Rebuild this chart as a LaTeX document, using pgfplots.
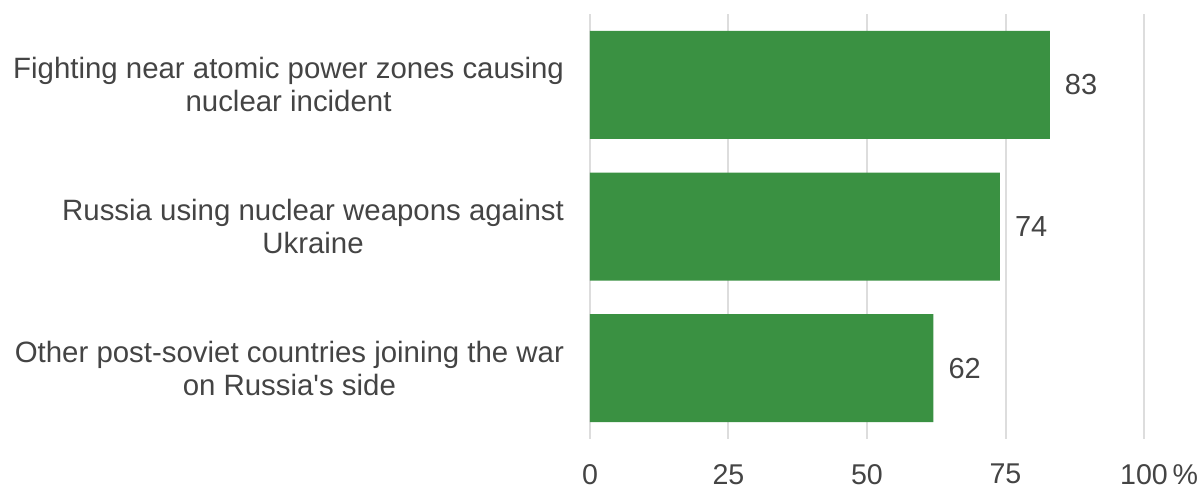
\documentclass[border=0pt]{standalone}
\usepackage{pgfplots}
\pgfplotsset{compat=1.18}
\usepackage{fontspec}
\setmainfont{Liberation Sans}
\definecolor{bargreen}{HTML}{3A9142}
\definecolor{txt}{HTML}{444444}
\definecolor{gridc}{HTML}{DDDDDD}
\begin{document}
\begin{tikzpicture}
\useasboundingbox (-295pt,-25pt) rectangle (306pt,219.5pt);
\begin{axis}[
  at={(0,0)}, anchor=south west,
  scale only axis, width=277pt, height=212.5pt,
  xbar, bar width=54pt,
  xmin=0, xmax=100, ymin=-0.5, ymax=2.5,
  y dir=reverse,
  xtick={0,25,50,75,100},
  xticklabels={0,25,50,75,100\rlap{\,\%}},
  ytick={0,1,2},
  yticklabels={{Fighting near atomic power zones causing\\nuclear incident},
               {Russia using nuclear weapons against\\Ukraine},
               {Other post-soviet countries joining the war\\on Russia\textquotesingle s side}},
  yticklabel style={align=center, font=\fontsize{14.7pt}{16.5pt}\selectfont, text=txt, xshift=-9.5pt},
  xticklabel style={font=\fontsize{14.3pt}{16pt}\selectfont, text=txt, yshift=-9pt},
  /pgf/number format/assume math mode=true,
  axis line style={draw=none},
  major tick length=0pt,
  xmajorgrids, major grid style={gridc, line width=1pt},
  nodes near coords,
  nodes near coords style={font=\fontsize{14.5pt}{16pt}\selectfont, text=txt, xshift=4pt},
]
\addplot[fill=bargreen, draw=none] coordinates {(83,0) (74,1) (62,2)};
\end{axis}
\end{tikzpicture}
\end{document}
